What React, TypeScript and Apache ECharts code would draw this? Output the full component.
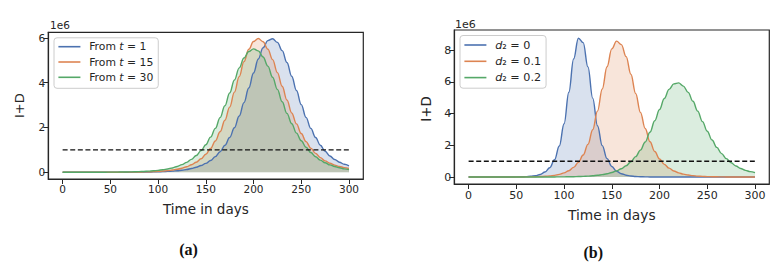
import React, { useEffect, useRef } from "react";
import * as echarts from "echarts";

// Time grid (days)
const days = [
  0, 5, 10, 15, 20, 25, 30, 35, 40, 45, 50, 55, 60, 65, 70, 75, 80, 85, 90, 95,
  100, 105, 110, 115, 120, 125, 130, 135, 140, 145, 150, 155, 160, 165, 170, 175, 180, 185, 190, 195,
  200, 205, 210, 215, 220, 225, 230, 235, 240, 245, 250, 255, 260, 265, 270, 275, 280, 285, 290, 295, 300,
];

// Panel (a): I+D in millions
const fromT1 = [
  0, 0, 0, 0, 0, 0, 0, 0.001, 0.001, 0.001, 0.001, 0.002, 0.002, 0.003, 0.004, 0.005, 0.007, 0.009, 0.012, 0.016,
  0.022, 0.029, 0.039, 0.052, 0.07, 0.094, 0.126, 0.168, 0.225, 0.3, 0.398, 0.528, 0.698, 0.918, 1.204, 1.55, 1.99, 2.51, 3.11, 3.76,
  4.43, 5.06, 5.56, 5.88, 5.96, 5.8, 5.43, 4.9, 4.29, 3.65, 3.02, 2.45, 1.96, 1.55, 1.21, 0.94, 0.73, 0.57, 0.45, 0.36, 0.29,
];
const fromT15 = [
  0, 0, 0, 0, 0, 0, 0, 0.001, 0.001, 0.001, 0.002, 0.003, 0.004, 0.005, 0.007, 0.009, 0.012, 0.016, 0.022, 0.03,
  0.041, 0.055, 0.074, 0.1, 0.135, 0.182, 0.249, 0.335, 0.45, 0.602, 0.804, 1.063, 1.4, 1.81, 2.32, 2.91, 3.58, 4.27, 4.94, 5.49,
  5.84, 5.97, 5.83, 5.5, 5.03, 4.45, 3.84, 3.23, 2.65, 2.16, 1.73, 1.37, 1.08, 0.845, 0.656, 0.51, 0.4, 0.32, 0.26, 0.21, 0.17,
];
const fromT30 = [
  0, 0, 0.001, 0.001, 0.001, 0.001, 0.002, 0.002, 0.003, 0.004, 0.006, 0.007, 0.01, 0.013, 0.017, 0.022, 0.029, 0.038, 0.05, 0.066,
  0.086, 0.113, 0.148, 0.194, 0.259, 0.344, 0.444, 0.576, 0.749, 0.965, 1.23, 1.57, 1.96, 2.44, 2.97, 3.54, 4.12, 4.66, 5.1, 5.39,
  5.51, 5.42, 5.15, 4.74, 4.24, 3.7, 3.15, 2.63, 2.17, 1.75, 1.41, 1.12, 0.883, 0.693, 0.543, 0.424, 0.331, 0.255, 0.199, 0.154, 0.117,
];

// Panel (b): I+D in millions
const d2Zero = [
  0, 0, 0, 0, 0, 0, 0.001, 0.001, 0.002, 0.004, 0.007, 0.013, 0.024, 0.046, 0.087, 0.163, 0.316, 0.59, 1.086, 1.956,
  3.36, 5.35, 7.45, 8.76, 8.48, 6.95, 4.98, 3.24, 1.98, 1.16, 0.663, 0.365, 0.207, 0.117, 0.065, 0.036, 0.02, 0.011, 0.006, 0.003,
  0.002, 0.001, 0.001, 0, 0, 0, 0, 0, 0, 0, 0, 0, 0, 0, 0, 0, 0, 0, 0, 0, 0,
];
const d2Tenth = [
  0, 0, 0, 0, 0, 0, 0.001, 0.001, 0.001, 0.002, 0.003, 0.005, 0.008, 0.012, 0.019, 0.029, 0.045, 0.07, 0.107, 0.165,
  0.26, 0.398, 0.607, 0.925, 1.39, 2.06, 2.98, 4.16, 5.56, 6.96, 8.09, 8.58, 8.36, 7.6, 6.49, 5.27, 4.08, 3.06, 2.23, 1.61,
  1.14, 0.801, 0.559, 0.377, 0.263, 0.182, 0.128, 0.088, 0.06, 0.041, 0.028, 0.02, 0.013, 0.009, 0.006, 0.004, 0.003, 0.002, 0.001, 0.001, 0.001,
];
const d2Fifth = [
  0, 0, 0, 0, 0, 0, 0, 0, 0, 0, 0.001, 0.001, 0.001, 0.001, 0.002, 0.002, 0.003, 0.004, 0.006, 0.008,
  0.012, 0.016, 0.022, 0.03, 0.041, 0.057, 0.079, 0.109, 0.149, 0.205, 0.282, 0.387, 0.525, 0.713, 0.964, 1.285, 1.7, 2.21, 2.83, 3.55,
  4.26, 4.96, 5.53, 5.88, 5.94, 5.74, 5.34, 4.78, 4.16, 3.5, 2.89, 2.34, 1.87, 1.48, 1.16, 0.9, 0.7, 0.54, 0.42, 0.34, 0.28,
];

const threshold = 1;
const xTicks = [0, 50, 100, 150, 200, 250, 300];
const yTicksA = [0, 2, 4, 6];
const yTicksB = [0, 2, 4, 6, 8];
const namesA = ["From t = 1", "From t = 15", "From t = 30"];
const labelsA = ["1", "15", "30"];
const namesB = ["d2 = 0", "d2 = 0.1", "d2 = 0.2"];
const labelsB = ["0", "0.1", "0.2"];
const colors = ["#4C72B0", "#DD8452", "#55A868"];
const fills = ["rgba(76,114,176,0.3)", "rgba(221,132,82,0.3)", "rgba(85,168,104,0.3)"];

const FONT = "DejaVu Sans";
const INK = "#262626";

function pairs(vals: number[]) {
  return days.map((d, i) => [d, vals[i]]);
}

export default function App() {
  const ref = useRef<HTMLDivElement>(null);
  useEffect(() => {
    if (!ref.current) return;
    const chart = echarts.init(ref.current, null, { renderer: "svg" });

    const mkX = (gi: number, margin: number, fs: number) => ({
      gridIndex: gi,
      type: "value",
      min: -15,
      max: 315,
      axisLine: { show: true, onZero: false, lineStyle: { color: INK, width: 1.2 } },
      splitLine: { show: false },
      axisTick: { show: true, length: 5, customValues: xTicks, lineStyle: { color: INK, width: 1 } },
      axisLabel: { customValues: xTicks, fontSize: fs, color: INK, margin, fontFamily: FONT },
    });
    const mkY = (gi: number, min: number, max: number, ticks: number[], fs: number) => ({
      gridIndex: gi,
      type: "value",
      min,
      max,
      axisLine: { show: true, onZero: false, lineStyle: { color: INK, width: 1.2 } },
      splitLine: { show: false },
      axisTick: { show: true, length: 5, customValues: ticks, lineStyle: { color: INK, width: 1 } },
      axisLabel: { customValues: ticks, fontSize: fs, color: INK, margin: 3, fontFamily: FONT },
    });

    const seriesA = [fromT1, fromT15, fromT30];
    const seriesB = [d2Zero, d2Tenth, d2Fifth];
    const series: any[] = [];
    seriesA.forEach((vals, i) => {
      series.push({
        name: namesA[i],
        type: "line",
        xAxisIndex: 0,
        yAxisIndex: 0,
        data: pairs(vals),
        showSymbol: false,
        smooth: 0.4,
        smoothMonotone: "x",
        lineStyle: { color: colors[i], width: 1.4 },
        itemStyle: { color: colors[i] },
        areaStyle: { color: fills[i], origin: 0 },
      });
    });
    series.push({
      name: "thresholdA",
      type: "line",
      xAxisIndex: 0,
      yAxisIndex: 0,
      data: [[0, threshold], [300, threshold]],
      showSymbol: false,
      silent: true,
      lineStyle: { color: "#111", width: 1.4, type: [5, 2.6] },
      z: 5,
    });
    seriesB.forEach((vals, i) => {
      series.push({
        name: namesB[i],
        type: "line",
        xAxisIndex: 1,
        yAxisIndex: 1,
        data: pairs(vals),
        showSymbol: false,
        smooth: 0.4,
        smoothMonotone: "x",
        lineStyle: { color: colors[i], width: 1.4 },
        itemStyle: { color: colors[i] },
        areaStyle: { color: fills[i], origin: 0 },
      });
    });
    series.push({
      name: "thresholdB",
      type: "line",
      xAxisIndex: 1,
      yAxisIndex: 1,
      data: [[0, threshold], [300, threshold]],
      showSymbol: false,
      silent: true,
      lineStyle: { color: "#111", width: 1.4, type: [5, 2.6] },
      z: 5,
    });

    const legendBase = {
      orient: "vertical",
      icon: "rect",
      itemWidth: 22,
      itemHeight: 1.6,
      backgroundColor: "rgba(255,255,255,0.8)",
      borderColor: "#cccccc",
      borderWidth: 1,
      borderRadius: 3,
      selectedMode: false,
    };

    chart.setOption({
      animation: false,
      grid: [
        { left: 48.3, top: 32.3, width: 315, height: 146.7, show: true, borderColor: INK, borderWidth: 1.2, backgroundColor: "transparent" },
        { left: 454.3, top: 30, width: 315, height: 154, show: true, borderColor: INK, borderWidth: 1.2, backgroundColor: "transparent" },
      ],
      xAxis: [mkX(0, 4, 10.5), mkX(1, 6, 11)],
      yAxis: [mkY(0, -0.3, 6.25, yTicksA, 10.5), mkY(1, -0.44, 9.28, yTicksB, 11)],
      legend: [
        {
          ...legendBase,
          data: namesA,
          left: 54,
          top: 37.8,
          padding: [2.4, 5, 4.5, 4.4],
          itemGap: 2.3,
          formatter: (name: string) => `{g|}From {i|t} = ${labelsA[namesA.indexOf(name)]}`,
          textStyle: {
            fontSize: 10.8,
            lineHeight: 13,
            color: INK,
            fontFamily: FONT,
            rich: {
              g: { width: 3.8 },
              i: { fontStyle: "italic", fontSize: 10.8, fontFamily: FONT, color: INK },
            },
          },
        },
        {
          ...legendBase,
          data: namesB,
          left: 460,
          top: 35.5,
          padding: [2.5, 5, 3.6, 4.4],
          itemGap: 2.3,
          formatter: (name: string) => `{g|}{i|d}₂ = ${labelsB[namesB.indexOf(name)]}`,
          textStyle: {
            fontSize: 11.2,
            lineHeight: 14,
            color: INK,
            fontFamily: FONT,
            rich: {
              g: { width: 3.8 },
              i: { fontStyle: "italic", fontSize: 11.2, fontFamily: FONT, color: INK },
            },
          },
        },
      ],
      graphic: [
        { type: "text", x: 50, y: 24.5, style: { text: "1e6", fontSize: 10.5, fontFamily: FONT, fill: INK, textVerticalAlign: "middle" } },
        { type: "text", x: 455, y: 24, style: { text: "1e6", fontSize: 11, fontFamily: FONT, fill: INK, textVerticalAlign: "middle" } },
        { type: "text", x: 205.8, y: 209.3, style: { text: "Time in days", fontSize: 13.5, fontFamily: FONT, fill: INK, textAlign: "center", textVerticalAlign: "middle" } },
        { type: "text", x: 611.8, y: 215, style: { text: "Time in days", fontSize: 13.8, fontFamily: FONT, fill: INK, textAlign: "center", textVerticalAlign: "middle" } },
        { type: "text", x: 19.3, y: 105.7, rotation: Math.PI / 2, style: { text: "I+D", fontSize: 13, fontFamily: FONT, fill: INK, textAlign: "center", textVerticalAlign: "middle" } },
        { type: "text", x: 426.7, y: 109, rotation: Math.PI / 2, style: { text: "I+D", fontSize: 13.4, fontFamily: FONT, fill: INK, textAlign: "center", textVerticalAlign: "middle" } },
        { type: "text", x: 188.5, y: 249, style: { text: "(a)", fontSize: 16, fontWeight: "bold", fontFamily: "Liberation Serif", fill: "#111", textAlign: "center", textVerticalAlign: "middle" } },
        { type: "text", x: 593.3, y: 252.5, style: { text: "(b)", fontSize: 16, fontWeight: "bold", fontFamily: "Liberation Serif", fill: "#111", textAlign: "center", textVerticalAlign: "middle" } },
      ],
      series,
    });
    return () => chart.dispose();
  }, []);

  return (
    <div
      ref={ref}
      style={{ position: "fixed", left: 0, top: 0, width: 778, height: 266, background: "#ffffff" }}
    />
  );
}
